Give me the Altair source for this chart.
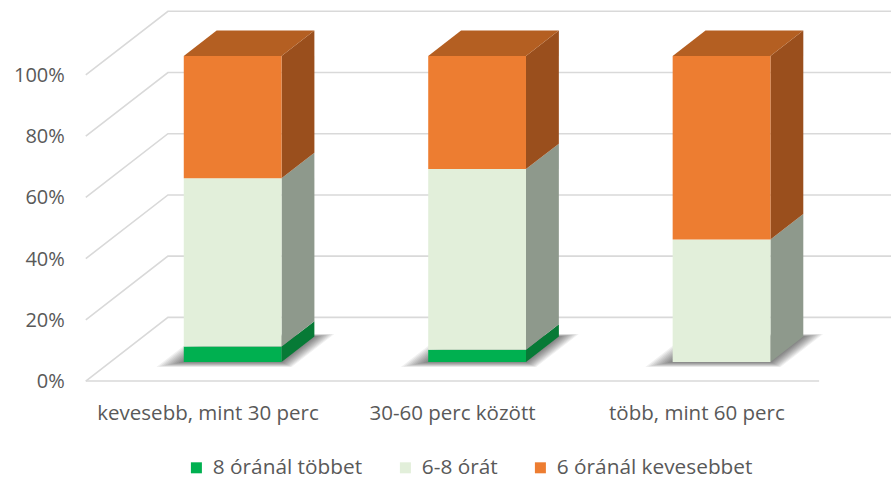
import altair as alt
import pandas as pd

# Commute time groups and the share of each sleep-length answer (%)
categories = ["kevesebb, mint 30 perc", "30-60 perc között", "több, mint 60 perc"]
series = ["8 óránál többet", "6-8 órát", "6 óránál kevesebbet"]
share_over_8 = [5, 4, 0]
share_6_to_8 = [55, 59, 40]
share_under_6 = [40, 37, 60]
tick_values = [0, 20, 40, 60, 80, 100]
tick_labels = ["0%", "20%", "40%", "60%", "80%", "100%"]

# Colours of the block faces
face_colors = ["#00B050", "#E2EFDA", "#ED7D31"]
side_colors = ["#077A36", "#8E998C", "#9A4F1D"]
top_color = "#B45F22"
grid_color = "#D9D9D9"
text_color = "#595959"
FONT = "Open Sans"

# Oblique projection: one full unit of depth moves a point right and up
DEPTH_X = 0.336      # in category units
DEPTH_Y = 20.8       # in percent units
HALF_W = 0.2         # half bar width
FRONT, BACK = 0.3, 0.7   # bars sit in the middle of the floor depth
FLOOR_LEFT = -0.5
X_DOMAIN = [-0.851, 2.794]
Y_DOMAIN = [-33.0, 124.5]

values = [share_over_8, share_6_to_8, share_under_6]

front_rows, side_rows, top_rows, shadow_rows = [], [], [], []
for i, cat in enumerate(categories):
    base = 0
    for s, name in enumerate(series):
        v = values[s][i]
        lo, hi = base, base + v
        base = hi
        if v <= 0:
            continue
        front_rows.append(dict(series=name,
                               x=i - HALF_W + FRONT * DEPTH_X,
                               x2=i + HALF_W + FRONT * DEPTH_X,
                               y=lo + FRONT * DEPTH_Y,
                               y2=hi + FRONT * DEPTH_Y))
        for d in (FRONT, BACK):
            side_rows.append(dict(key=f"{i}-{s}", s=s,
                                  x=i + HALF_W + d * DEPTH_X,
                                  y=lo + d * DEPTH_Y,
                                  y2=hi + d * DEPTH_Y))
    for d in (FRONT, BACK):
        top_rows.append(dict(key=str(i),
                             x=i - HALF_W + d * DEPTH_X,
                             x2=i + HALF_W + d * DEPTH_X,
                             y=base + d * DEPTH_Y))
    # soft floor shadow built from many growing translucent footprints
    for k in range(1, 11):
        ex, ed = 0.0085 * k, 0.008 * k
        for d in (FRONT - ed, BACK + ed * 0.5):
            shadow_rows.append(dict(key=f"{i}-{k}",
                                    x=i - HALF_W - ex + d * DEPTH_X,
                                    x2=i + HALF_W + ex * 0.8 + d * DEPTH_X,
                                    y=d * DEPTH_Y))

grid_rows = []
for p in tick_values:
    pts = [(FLOOR_LEFT, p), (FLOOR_LEFT + DEPTH_X, p + DEPTH_Y), (X_DOMAIN[1], p + DEPTH_Y)]
    for o, (x, y) in enumerate(pts):
        grid_rows.append(dict(key=f"g{p}", order=o, x=x, y=y))
grid_rows += [dict(key="floor", order=0, x=FLOOR_LEFT, y=0),
              dict(key="floor", order=1, x=len(categories) - 0.5, y=0)]

xs = alt.Scale(domain=X_DOMAIN, nice=False, zero=False)
ys = alt.Scale(domain=Y_DOMAIN, nice=False, zero=False)

grid = alt.Chart(pd.DataFrame(grid_rows)).mark_line(
    color=grid_color, strokeWidth=1.6, clip=True
).encode(
    x=alt.X("x:Q", scale=xs, axis=None),
    y=alt.Y("y:Q", scale=ys, axis=None),
    detail="key:N",
    order="order:Q",
)

shadow = alt.Chart(pd.DataFrame(shadow_rows)).mark_area(
    orient="horizontal", color="#000000", opacity=0.06
).encode(
    y=alt.Y("y:Q", scale=ys, axis=None),
    x=alt.X("x:Q", scale=xs, axis=None),
    x2="x2:Q",
    detail="key:N",
)

side_df = pd.DataFrame(side_rows)
side_layers = [
    alt.Chart(side_df[side_df["s"] == s]).mark_area(color=side_colors[s]).encode(
        x=alt.X("x:Q", scale=xs, axis=None),
        y=alt.Y("y:Q", scale=ys, axis=None),
        y2="y2:Q",
        detail="key:N",
    )
    for s in range(len(series))
    if (side_df["s"] == s).any()
]

fronts = alt.Chart(pd.DataFrame(front_rows)).mark_rect().encode(
    x=alt.X("x:Q", scale=xs, axis=None),
    x2="x2:Q",
    y=alt.Y("y:Q", scale=ys, axis=None),
    y2="y2:Q",
    color=alt.Color(
        "series:N",
        scale=alt.Scale(domain=series, range=face_colors),
        legend=alt.Legend(
            title=None, orient="none", direction="horizontal",
            legendX=186, legendY=457,
            symbolType="square", symbolSize=121, symbolStrokeWidth=0,
            labelFont=FONT, labelFontSize=20.8, labelColor=text_color,
            labelOffset=6, columnPadding=32, padding=0, labelLimit=0,
        ),
    ),
)

tops = alt.Chart(pd.DataFrame(top_rows)).mark_area(
    orient="horizontal", color=top_color
).encode(
    y=alt.Y("y:Q", scale=ys, axis=None),
    x=alt.X("x:Q", scale=xs, axis=None),
    x2="x2:Q",
    detail="key:N",
)

tick_df = pd.DataFrame({"v": tick_values, "t": tick_labels, "x": FLOOR_LEFT})
tick_text = alt.Chart(tick_df).mark_text(
    align="right", baseline="alphabetic", dx=-21, dy=7,
    font=FONT, fontSize=20, color=text_color,
).encode(
    x=alt.X("x:Q", scale=xs, axis=None),
    y=alt.Y("v:Q", scale=ys, axis=None),
    text="t:N",
)

cat_df = pd.DataFrame({"i": list(range(len(categories))), "c": categories, "y": 0})
cat_text = alt.Chart(cat_df).mark_text(
    align="center", baseline="alphabetic", dy=39,
    font=FONT, fontSize=20.5, color=text_color,
).encode(
    x=alt.X("i:Q", scale=xs, axis=None),
    y=alt.Y("y:Q", scale=ys, axis=None),
    text="c:N",
)

chart = alt.layer(
    grid, shadow, *side_layers, fronts, tops, tick_text, cat_text
).properties(
    width=891, height=482, padding=0,
    autosize=alt.AutoSizeParams(type="none"),
    background="white",
).configure_view(stroke=None)

chart.save("out.html", embed_options={"renderer": "svg", "actions": False})
